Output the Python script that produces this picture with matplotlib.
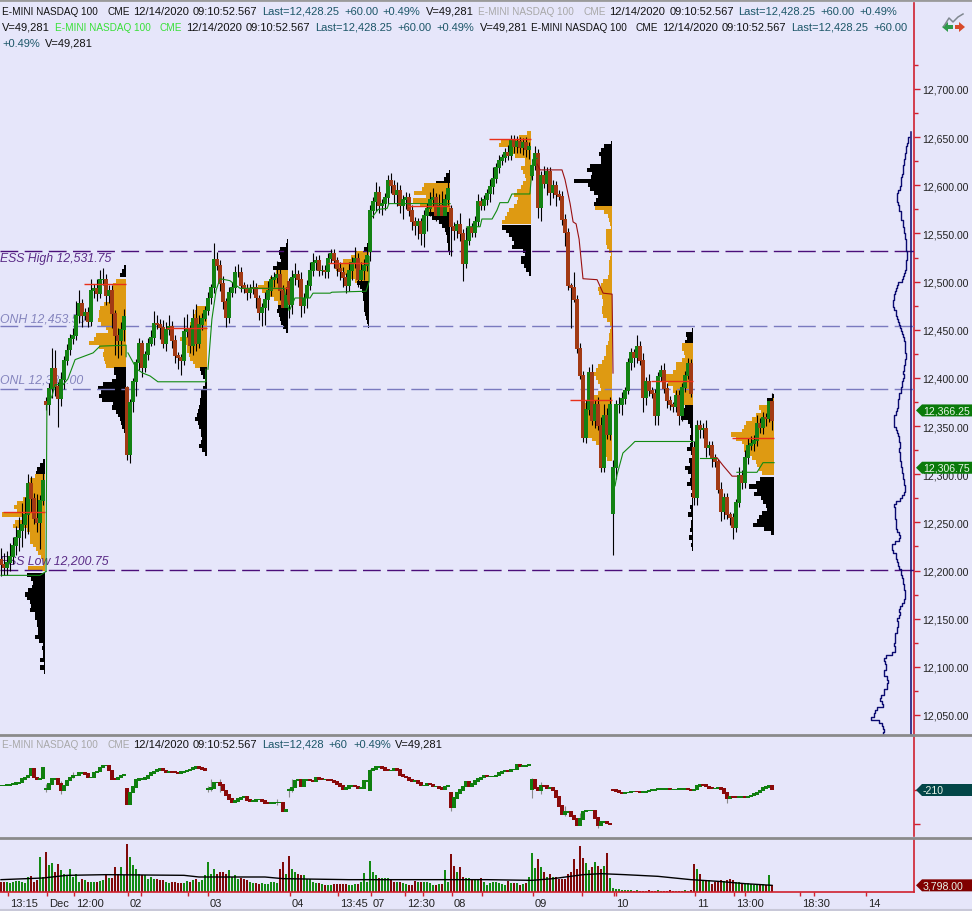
import numpy as np
import matplotlib
matplotlib.use("Agg")
import matplotlib.pyplot as plt
from matplotlib.patches import Polygon
from matplotlib.lines import Line2D
from matplotlib.transforms import IdentityTransform, ScaledTranslation

plt.rcParams['font.family'] = ['Liberation Sans', 'DejaVu Sans']

# ---------- price candles, one list per session (close, upper wick, lower wick) ----------
opens_first = [12211, 12376, 12390, 12470, 12500, 12531, 12576, 12610, 12259, 12328]
c_A = [12206,12203,12208,12215,12226,12234,12242,12248,12258,12290,12275,12254,12250,12273,12294]
u_A = [12,12,12,14,9,12,14,22,18,10,8,5,25,5,15]
d_A = [12,8,8,8,8,10,14,18,14,20,14,6,10,28,5]
c_B = [12372,12389,12410,12391,12379,12398,12418,12429,12441,12444,12465,12477,12465,12468,12459,12491,12493,12488,12502,12502,12486,12491,12467,12444,12439,12450,12464]
u_B = [4,6,21,19,5,8,5,6,5,8,15,14,5,5,6,12,5,10,10,12,6,5,5,4,8,8,8]
d_B = [5,10,10,10,30,8,10,5,5,6,5,8,12,5,6,5,8,8,5,5,10,8,15,20,18,15,12]
c_C = [12320,12375,12396,12416,12436,12411,12424,12436,12442,12457,12455,12452,12436,12450,12453,12439,12423,12421,12418,12448,12450,12434,12462,12436,12455,12462,12470]
u_C = [2,3,4,4,5,3,4,5,8,12,8,6,8,8,12,6,6,4,4,15,16,5,10,15,10,5,5]
d_C = [5,8,10,15,8,10,5,5,3,8,4,12,5,8,5,8,8,12,15,5,5,8,10,8,5,5,3]
c_D = [12483,12494,12523,12517,12498,12479,12463,12489,12494,12510,12510,12496,12493,12489,12493,12494,12483,12468,12473,12481,12491,12502,12504,12507,12491,12473,12486]
u_D = [6,4,17,8,5,8,4,5,6,6,8,5,4,5,5,8,5,3,5,8,10,5,6,14,12,5,8]
d_D = [5,6,6,5,8,7,10,6,5,6,5,7,5,8,6,6,10,8,14,18,10,6,8,5,10,18,22]
c_E = [12476,12504,12507,12502,12475,12483,12496,12512,12520,12522,12512,12512,12510,12524,12529,12522,12514,12510,12504,12496,12512,12520,12524,12502,12512,12517,12527]
u_E = [4,8,12,5,8,5,6,8,10,5,6,5,5,6,5,5,4,6,5,5,8,6,12,6,8,6,8]
d_E = [14,10,8,8,12,8,10,5,6,8,6,5,6,6,5,8,8,8,10,8,6,10,6,8,5,10,6]
c_F = [12574,12583,12593,12579,12581,12587,12605,12600,12590,12595,12579,12585,12587,12574,12562,12558,12562,12550,12569,12576,12585,12587,12569,12579,12569,12585,12597]
u_F = [6,5,10,6,5,5,6,8,5,8,5,5,6,5,6,5,4,4,5,6,8,10,5,12,15,6,14]
d_F = [10,8,10,8,10,7,6,8,8,12,8,14,10,6,8,10,14,12,14,16,8,6,6,8,5,8,5]
c_G = [12557,12553,12559,12550,12519,12543,12556,12551,12562,12583,12579,12585,12591,12599,12607,12618,12626,12629,12634,12631,12647,12640,12645,12639,12644,12637,12640]
u_G = [4,5,5,12,5,14,10,5,6,8,5,5,5,8,12,5,5,4,5,8,5,5,6,5,5,6,5]
d_G = [30,10,8,8,18,5,5,5,5,4,5,5,5,8,8,5,5,5,5,5,5,6,6,5,8,8,10]
c_H = [12621,12633,12577,12610,12602,12614,12592,12600,12590,12588,12564,12551,12496,12494,12481,12431,12403,12338,12367,12406,12356,12372,12351,12307,12361,12341,12372]
u_H = [6,8,5,5,10,5,5,5,4,5,6,6,5,3,16,5,5,4,10,5,8,5,8,8,12,8,8]
d_H = [5,5,11,14,5,12,12,5,12,3,5,14,5,42,2,5,4,5,6,5,5,8,5,5,5,4,5]
c_I = [12307,12372,12372,12379,12387,12416,12426,12421,12433,12418,12380,12396,12387,12384,12361,12401,12408,12389,12377,12372,12370,12382,12361,12390,12403,12415,12384]
u_I = [8,5,8,6,4,5,5,4,12,5,8,5,8,4,5,5,5,8,6,4,3,5,5,5,4,6,5]
d_I = [43,12,8,10,6,4,8,10,6,5,15,8,6,5,10,10,4,5,8,5,5,5,10,6,5,4,4]
c_J = [12276,12351,12346,12348,12328,12330,12317,12313,12284,12261,12276,12258,12255,12245,12271,12299,12291,12317,12330,12332,12335,12353,12348,12359,12358,12376,12356]
u_J = [6,5,5,5,8,4,5,4,3,8,5,5,3,5,3,8,5,8,8,8,6,8,5,6,5,3,8]
d_J = [8,8,8,8,10,8,10,5,3,10,8,5,8,12,5,5,6,5,6,5,8,6,5,6,8,4,10]
session_closes = [c_A,c_B,c_C,c_D,c_E,c_F,c_G,c_H,c_I,c_J]
session_ups = [u_A,u_B,u_C,u_D,u_E,u_F,u_G,u_H,u_I,u_J]
session_dns = [d_A,d_B,d_C,d_D,d_E,d_F,d_G,d_H,d_I,d_J]

# ---------- volume profiles (top price, widths downwards, 4 point rows) ----------
P_STEP = 4
profiles = [
 (15,12311,'k',[2,5,8,9]),
 (15,12296,'o',[10,15,17,17,17,18,22,28,31,28,43,22,30,32,18,15,15,15,12,9,7,4,2,2,17]),
 (15,12193,'k',[18,14,12,13,17,20,18,15,14,15,10,10,8,8,7,7,10,6,2,3,2,2,5,1,5,1]),
 (42,12513,'k',[2,4,6]),
 (42,12498,'o',[10,13,14,15,15,17,22,26,27,27,28,25,20,18,30,32,37,27,22,23,22,21,20]),
 (42,12407,'k',[12,12,10,14,23,28,25,27,24,13,14,10,8,6,5,4,2,1]),
 (69,12470,'o',[10,12,14,15,17,17,18,20,27,22,20,20,18,17,14,12]),
 (69,12407,'k',[7,6,4,2,2,4,6,6,7,7,8,9,10,12,9,8,6,6,5,6,8,5,2]),
 (96,12540,'k',[1,2,8,9,8,7,10,15]),
 (96,12508,'o',[12,14,18,24,30,26,19,14,10]),
 (96,12471,'k',[10,11,9,8,7,5,2]),
 (123,12536,'k',[2,5]),
 (123,12527,'o',[14,18,26,30,33,25,19,14]),
 (123,12496,'k',[12,9,7,6,6,5,5,5,4,3,2,1]),
 (150,12612,'k',[1,4,6,14]),
 (150,12598,'o',[26,28,36,24,37,30,24,24]),
 (150,12568,'k',[22,18,11,8,5,4,3,3,2,2,1]),
 (177,12652,'o',[4,12,30,32,20,18,16,6,6,10,8,6,5,8,10,14,17,13,14,17,22,24,26,29]),
 (177,12554,'k',[29,25,22,19,17,19,8,6,10,10,7,5,2]),
 (204,12642,'k',[1,8,11,13,11,11,22,25,20,21,38,24,22,18,14,16,18]),
 (204,12574,'o',[17,8,4,3,2,1,6,6,6,6,5,3,1,2,3,3,3,3,4,9,11,14,13,10,9,9,10,10,9,5,2,1,2,3,3,4,6,6,6,8,10,14,16,18,16,14,12,11,14,18,24,28,30,31,30,30,29,29,28,24,20,16,13,10,7,5]),
 (231,12447,'k',[1,7,6,8]),
 (231,12432,'o',[11,11,9,8,11,17,17,20,32,28,25,20,20,18,15,15]),
 (231,12368,'k',[8,10,15,12,5,3,2,2,3,2,3,6,2,1,4,3,8,5,2,3,6,2,1,2,1,1,3,2,5,1,2,2,3,1,4,1,2,1]),
 (258,12379,'k',[1,7,3]),
 (258,12375,'o',[2,6,15,13,18,22,28,30,32,43,38,32,30,30,28,22,18,17,15,12]),
 (258,12293,'k',[14,18,25,17,20,13,11,8,7,12,15,17,21,10,3]),
]
# point of control: session end, bars back, price
poc_ends = [15,42,69,96,123,150,177,204,231,258]
poc_lens = [14.5,14.5,14,15.5,14,14.5,14.5,14.5,14.5,14.5]
poc_prices = [12261,12498,12452,12493,12519,12579,12648,12377,12397,12338]

# ---------- session average lines (bar position, price) ----------
green_x = [[0,13,15],[15,15.3,17,18,20.7,22.3,24.7,30.7,33,41.7,41.7],
           [42.3,45.3,47.3,49.7,52.3,68.3,68.3],[69,70.3,71.7,73,76.3,79.7,94.3,96],
           [96.3,98,103,104,109.7,110.3,121.7,122.7,122.7],[123,124,125.7,128.7,129.3,149.7],
           [155.3,159.7,160.3,163.7,165.3,166.3,169,170.3,176.3,177.3,178.7],
           [204.7,205.3,207.3,209.7,211.3,230.7],[233,238.7],[245.3,252,254,257.7]]
green_y = [[12195,12195,12199],[12199,12372,12381,12393,12393,12399,12419,12426,12433,12434,12422],
           [12426,12409,12405,12402,12396,12396,12409],[12409,12461,12491,12503,12501,12493,12493,12470],
           [12471,12483,12483,12488,12488,12489,12490,12500,12526],[12566,12568,12575,12576,12581,12581],
           [12557,12557,12565,12565,12574,12582,12582,12591,12591,12627,12628],
           [12288,12299,12322,12329,12334,12334],[12317,12317],[12302,12302,12312,12312]]
red_x = [[178.7,179.7,187,188,189.7,190.7,191.7,192.7,194,198.7,200.7,203.7,204],[238.7,240.7,243.7,245.3]]
red_y = [[12622,12616,12616,12606,12581,12562,12560,12544,12503,12502,12488,12487,12405],[12317,12309,12298,12298]]

# ---------- all session profile on the right (distance from base, 3.2 point rows, top down) ----------
all_top = 12650
all_step = 3.2
all_profile = [2,3,3,5,4,6,5,7,6,8,7,8,7,10,9,10,9,12,13,
 14,13,14,11,12,11,9,11,8,7,8,6,7,5,6,4,5,
 4,5,3,4,4,5,4,5,6,
 8,7,11,14,13,17,15,18,16,19,17,16,
 14,15,12,13,10,11,8,9,7,6,
 5,7,5,6,4,6,5,7,6,8,7,7,9,8,10,9,11,
 13,11,14,12,14,13,16,18,15,19,14,15,12,13,11,12,10,
 12,11,10,12,10,9,10,8,9,7,8,6,7,5,6,7,
 10,11,18,15,16,15,17,14,15,
 14,15,12,11,10,13,19,18,20,16,
 14,15,12,13,11,9,10,8,7,8,6,7,5,6,
 5,8,9,12,11,10,13,14,12,14,
 13,15,16,15,17,16,15,17,20,29,
 25,26,24,26,28,25,22,24,23,25,
 28,26,34,27,30,26,41,30,44,36,
 28,30,26,27,28,24,30,25,36,26,28,24,26,25]

# ---------- indicator panel ----------
mid_first = [-166,-200,-200,-205,-215,-216,-240,-200,-205,-210]
m_A = [-166,-166,-160,-158,-150,-140,-133,-100,-85,-66,5,-83,-100,-93,17]
m_B = [-200,-150,-100,-93,-150,-216,-166,-116,-83,-66,-66,-40,-33,-50,-83,-83,-33,-26,17,33,33,-17,-100,-106,-83,-66,-60]
m_C = [-350,-233,-180,-110,-100,-100,-90,-65,-40,-25,-10,0,-15,-35,-25,-30,-35,-45,-30,-25,-15,-5,10,25,10,0,-10]
m_D = [-200,-190,-135,-135,-160,-215,-260,-300,-330,-320,-300,-285,-280,-310,-320,-320,-305,-305,-320,-340,-345,-340,-335,-335,-335,-420,-410]
m_E = [-210,-185,-115,-110,-170,-110,-110,-115,-125,-85,-100,-105,-105,-110,-115,-130,-150,-170,-200,-190,-170,-165,-175,-190,-190,-120,-115]
m_F = [-15,0,20,20,10,-10,-15,-15,5,-10,-60,-75,-85,-110,-120,-120,-140,-165,-165,-150,-155,-175,-175,-190,-200,-175,-170]
m_G = [-380,-290,-240,-210,-175,-130,-170,-150,-120,-100,-85,-70,-76,-76,-72,-65,-40,-25,-20,-25,-5,-5,40,30,30,35,40]
m_H = [-110,-190,-210,-165,-170,-190,-190,-215,-280,-370,-450,-430,-430,-470,-500,-565,-500,-425,-415,-415,-415,-490,-560,-530,-525,-545,-555]
m_I = [-210,-220,-235,-240,-235,-232,-228,-225,-228,-232,-230,-222,-215,-210,-205,-200,-200,-200,-200,-205,-205,-205,-200,-200,-200,-205,-210]
m_J = [-205,-170,-155,-160,-175,-190,-195,-195,-185,-200,-240,-290,-275,-280,-285,-280,-278,-280,-275,-265,-250,-235,-215,-190,-180,-170,-205]
mid_sessions = [m_A,m_B,m_C,m_D,m_E,m_F,m_G,m_H,m_I,m_J]
mid_wick_i = [15,20,24,69,70,73,92,96,97,123,150,177,180,188,193,199,242]
mid_wick_hi = [-150,-120,-30,-170,-100,-100,-300,-190,-100,0,-350,-90,-130,-370,-440,-490,-260]
mid_wick_lo = [-230,-250,-90,-230,-220,-230,-360,-280,-230,-30,-420,-290,-250,-470,-560,-590,-340]

# ---------- volume panel (one unit = 190 contracts) ----------
VOL_UNIT = 190
v_A = [30,30,30,26,30,34,34,30,28,44,48,30,36,105,45]
v_B = [120,80,87,60,83,65,55,50,68,45,55,30,38,35,30,30,30,30,32,35,52,42,42,75,55,75,50]
v_C = [145,105,80,70,55,50,52,38,45,40,38,35,35,30,28,30,30,28,28,28,32,30,35,38,30,35,50]
v_D = [90,55,70,55,60,60,55,65,45,50,38,42,40,35,30,28,28,25,28,25,25,30,30,28,70,90,55]
v_E = [108,70,60,55,52,50,40,38,30,28,28,25,22,22,22,25,25,25,25,23,22,22,25,25,30,58,30]
v_F = [92,60,50,42,42,42,42,35,30,30,30,28,25,22,20,32,30,30,30,30,28,20,20,25,25,65,30]
v_G = [113,78,60,75,45,42,42,38,38,38,42,30,22,28,30,30,28,25,22,32,28,26,28,22,24,28,45]
v_H = [118,72,98,75,60,45,55,45,45,40,40,40,55,60,100,70,138,102,88,65,75,90,78,70,78,118,42]
v_I = [12,10,8,6,5,5,5,4,5,4,4,4,5,4,4,5,4,4,4,5,4,4,4,4,5,4,5]
v_J = [85,68,55,35,35,35,25,30,30,36,33,36,38,36,30,30,25,25,26,25,22,22,25,24,22,52,20]
volumes = v_A+v_B+v_C+v_D+v_E+v_F+v_G+v_H+v_I+v_J
ma_i = [0,14,22,35,61,66,88,94,116,144,162,177,184,194,200,208,219,230,239,248,257]
ma_v = [37,42,50,52,50,45,45,40,37,37,37,35,40,52,55,52,47,37,32,25,20]

# ---------- axis labels ----------
tick_pos = [2.3,15.3,24.3,42.3,69,96.3,112.3,123.3,134.7,150.3,177.3,204.3,231.3,244.3,266.3,288.3]
tick_txt = ['13:15','Dec','12:00','02','03','04','13:45','07','12:30','08','09','10','11','13:00','18:30','14']
extra_ticks = [46.7,62.3,140.7,160.3,193.7,205,248,271]
price_ticks = [12050,12100,12150,12200,12250,12300,12350,12400,12450,12500,12550,12600,12650,12700]
minor_prices = [12075,12125,12175,12225,12275,12325,12375,12425,12475,12525,12575,12625,12675,12725]

level_prices = [12531.75,12453.5,12388.0,12200.75]
level_colors = ['#4B0F7A','#7A7ABF','#7A7ABF','#4B0F7A']
level_text = ['ESS High 12,531.75','ONH 12,453.50','ONL 12,388.00','ESS Low 12,200.75']
level_text_y = [12525,12462,12398,12210]
level_text_color = ['#5A2A86','#8585BE','#8585BE','#5A2A86']

BG = '#E6E6FA'
RED = '#D0202E'
UP = '#138213'
DN = '#A23A14'
W, H = 972, 912
fig = plt.figure(figsize=(W/100, H/100), dpi=100, facecolor=BG)

def make_ax(top, bottom):
    return fig.add_axes([0, 1-bottom/H, 914/W, (bottom-top)/H], facecolor=BG)

ax = make_ax(4, 736)
ax2 = make_ax(737, 837)
ax3 = make_ax(840, 893)
xl = (-1/3, 913/3)
for a in (ax, ax2, ax3):
    a.set_xlim(*xl)
    for s in a.spines.values():
        s.set_visible(False)
    a.spines['right'].set_visible(True)
    a.spines['right'].set_color(RED)
    a.spines['right'].set_linewidth(1.2)
    a.set_xticks([])
    a.yaxis.tick_right()
    a.tick_params(axis='y', colors=RED, length=4, width=1, labelcolor='#222222', labelsize=7.6, pad=2)

# y scale: 12700 at y=89, 12050 at y=715
ppx = 650/626
ax.set_ylim(12700-(735-89)*ppx, 12700+(89-3)*ppx)
ax.set_yticks(price_ticks)
ax.set_yticklabels([f'{p:,.2f}' for p in price_ticks])
ax.set_yticks(minor_prices, minor=True)
ax.tick_params(axis='y', which='minor', colors=RED, length=3, width=1)

# profiles
for end, top, kind, widths in profiles:
    w = np.array(widths)/3
    y = top - P_STEP*np.arange(len(widths))
    ax.barh(y, w, height=P_STEP+0.4, left=end-1/3-w, align='edge',
            color='#000000' if kind == 'k' else '#DE9A12', linewidth=0, zorder=2)

# labels of levels
for t, y, c in zip(level_text, level_text_y, level_text_color):
    ax.text(xl[0], y, t, style='italic', fontsize=8.8, color=c, va='center', ha='left', zorder=2.5)

# candles
start = 0
all_o, all_c = [], []
for so, cl, up, dn in zip(opens_first, session_closes, session_ups, session_dns):
    cl = np.array(cl, float)
    op = np.r_[so, cl[:-1]]
    x = start + np.arange(len(cl))
    ax.vlines(x, np.minimum(op, cl)-np.array(dn), np.maximum(op, cl)+np.array(up),
              color='black', lw=0.8, zorder=4)
    col = [UP if c >= o else DN for o, c in zip(op, cl)]
    ax.bar(x, np.abs(cl-op)+1, bottom=np.minimum(op, cl)-0.5, width=1.2, color=col, linewidth=0, zorder=5)
    all_o.extend(op); all_c.extend(cl)
    start += len(cl)
all_o = np.array(all_o); all_c = np.array(all_c)

# POC
for e, l, p in zip(poc_ends, poc_lens, poc_prices):
    ax.plot([e-l, e-0.3], [p, p], color='#E8301A', lw=1.0, zorder=6, solid_capstyle='butt')

# session lines
for xs, ys in zip(green_x, green_y):
    ax.plot(xs, ys, color='#118A11', lw=0.8, zorder=7)
for xs, ys in zip(red_x, red_y):
    ax.plot(xs, ys, color='#9A1010', lw=0.8, zorder=7)

# levels
for p, c in zip(level_prices, level_colors):
    ax.plot([xl[0], 303.3], [p, p], color=c, lw=1.0, dashes=(12.8, 4.6), zorder=3)
    ax.plot([303.3, 304.2], [p, p], color=c, lw=1.0, zorder=3)

# all-session profile
base = 303.3
y_all = all_top - all_step*np.arange(len(all_profile))
ax.plot(base-np.array(all_profile)/3, y_all, drawstyle='steps-mid', color='#0A0A70', lw=1.0, zorder=4)
ax.plot([base, base], [12655, ax.get_ylim()[0]+1], color='#0A0A70', lw=1.1, zorder=4)

# indicator panel: -210 at y=791, 10 units per pixel
ax2.set_ylim(-210-(837-791)*10, -210+(791-737)*10)
ax2.set_yticks([-210, -550])
ax2.set_yticklabels(['', ''])
mid_o, mid_c = [], []
for so, cl in zip(mid_first, mid_sessions):
    cl = np.array(cl, float)
    op = np.r_[so, cl[:-1]]
    mid_o.extend(op); mid_c.extend(cl)
mid_o = np.array(mid_o); mid_c = np.array(mid_c)
mx = np.arange(len(mid_c))
ax2.vlines(mid_wick_i, mid_wick_lo, mid_wick_hi, color='#8A8A8A', lw=0.8, zorder=1)
ax2.bar(mx, np.abs(mid_c-mid_o)+12, bottom=np.minimum(mid_o, mid_c)-6, width=1.15,
        color=['#0F7F0F' if c >= o else '#8A0A0A' for o, c in zip(mid_o, mid_c)], linewidth=0, zorder=2)

# volume panel
ax3.set_ylim(0, 53*3*VOL_UNIT)
vx = np.arange(len(volumes))
n = min(len(volumes), len(all_c))
vcol = [('#138A13' if all_c[i] >= all_o[i] else '#800A0A') for i in range(n)]
ax3.bar(vx[:n], np.array(volumes[:n])*VOL_UNIT, width=0.72, color=vcol, linewidth=0, zorder=2)
ax3.plot(ma_i, np.array(ma_v)*VOL_UNIT, color='black', lw=1.0, zorder=3)
ax3.set_yticks([])
ax3.spines['bottom'].set_visible(True)
ax3.spines['bottom'].set_color(RED)
ax3.spines['bottom'].set_linewidth(1.2)
ax3.set_xticks(tick_pos)
ax3.set_xticklabels(tick_txt)
ax3.tick_params(axis='x', colors=RED, length=3, width=1, labelcolor='#222222', labelsize=8, pad=1)
off = ScaledTranslation(2/100, 0, fig.dpi_scale_trans)
for lab in ax3.get_xticklabels():
    lab.set_ha('left')
    lab.set_transform(lab.get_transform()+off)
ax3.set_xticks(extra_ticks, minor=True)
ax3.tick_params(axis='x', which='minor', colors=RED, length=3, width=1)

# panel separators
idt = IdentityTransform()
for y, c, lw in [(1, '#9A9A9A', 2), (735.5, '#8A8A8A', 2.0), (838.5, '#8A8A8A', 2.0), (911, '#C8C8D8', 1.5)]:
    fig.add_artist(Line2D([0, W], [H-y, H-y], color=c, lw=lw, transform=idt))

def tag(axis, val, text, color):
    y = axis.transData.transform((0, val))[1]
    fig.add_artist(Polygon([(916, y), (922, y+6), (972, y+6), (972, y-6), (922, y-6)],
                           closed=True, facecolor=color, edgecolor='none', transform=idt, zorder=20))
    fig.text(923, y, text, color='#E8F4E8', fontsize=7.6, va='center', ha='left', transform=idt, zorder=21)

tag(ax, 12366.25, '12,366.25', '#0A7A0A')
tag(ax, 12306.75, '12,306.75', '#0A7A0A')
tag(ax2, -210, '-210', '#034648')
tag(ax3, 3798, '3,798.00', '#800000')

# header text, segment by segment
KC = '#111111'; TL = '#1C5668'; GY = '#A8A8A8'; GN = '#38E038'
def emini(x, c):
    return [(x, 'E-MINI NASDAQ 100', c, 7.2), (x+105, 'CME', c, 7.2)]
L1 = emini(2,KC)+[(133,'12/14/2020',KC,8),(193,'09:10:52.567',KC,8),(262,'Last=12,428.25',TL,8),
      (344,'+60.00',TL,8),(382,'+0.49%',TL,8),(426,'V=49,281',KC,8)]+emini(478,GY)+[
      (609,'12/14/2020',KC,8),(670,'09:10:52.567',KC,8),(738,'Last=12,428.25',TL,8),(820,'+60.00',TL,8),(859,'+0.49%',TL,8)]
L2 = [(2,'V=49,281',KC,8)]+emini(55,GN)+[(186,'12/14/2020',KC,8),(246,'09:10:52.567',KC,8),
      (315,'Last=12,428.25',TL,8),(397,'+60.00',TL,8),(436,'+0.49%',TL,8),(480,'V=49,281',KC,8)]+emini(531,KC)+[
      (662,'12/14/2020',KC,8),(722,'09:10:52.567',KC,8),(791,'Last=12,428.25',TL,8),(873,'+60.00',TL,8)]
L3 = [(2,'+0.49%',TL,8),(45,'V=49,281',KC,8)]
L4 = emini(2,GY)+[(133,'12/14/2020',KC,8),(193,'09:10:52.567',KC,8),(262,'Last=12,428',TL,8),
      (328,'+60',TL,8),(353,'+0.49%',TL,8),(395,'V=49,281',KC,8)]
for y, segs in [(12, L1), (28, L2), (44, L3), (745, L4)]:
    for x, s, c, fs in segs:
        fig.text(x, H-y, s, color=c, fontsize=fs, va='center', ha='left', transform=idt, zorder=21)

# small icon, top right
fig.add_artist(Line2D([944, 949, 953, 958, 963], [H-27, H-19, H-23, H-18, H-15], color='#808890', lw=1.1, transform=idt))
fig.add_artist(Polygon([(942, H-28), (948, H-23), (948, H-33)], closed=True, facecolor='#2E9A4A', edgecolor='none', transform=idt))
fig.add_artist(Polygon([(948, H-26), (953, H-26), (953, H-30), (948, H-30)], closed=True, facecolor='#2E9A4A', edgecolor='none', transform=idt))
fig.add_artist(Polygon([(965, H-28), (959, H-23), (959, H-33)], closed=True, facecolor='#D84A2A', edgecolor='none', transform=idt))
fig.add_artist(Polygon([(955, H-26), (959, H-26), (959, H-30), (955, H-30)], closed=True, facecolor='#D84A2A', edgecolor='none', transform=idt))

fig.savefig('out.png', dpi=100, facecolor=BG)
